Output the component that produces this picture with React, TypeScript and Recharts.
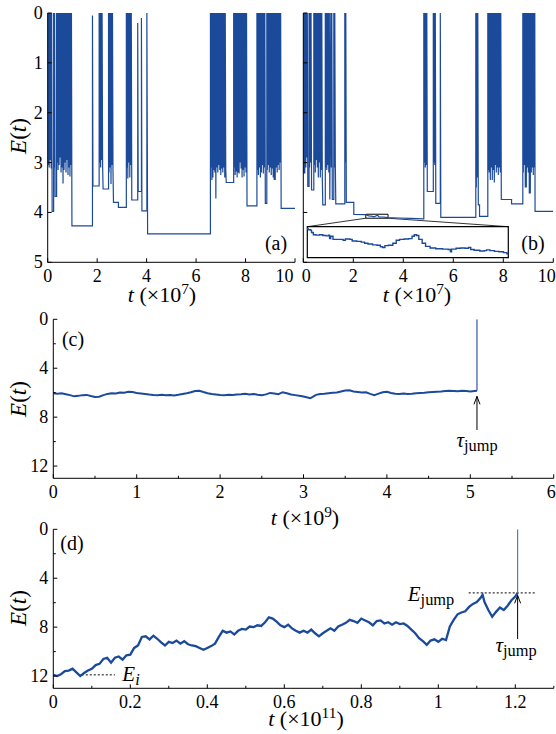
import React from 'react';
import { LineChart, Line, XAxis, YAxis, ReferenceLine, ReferenceDot, ReferenceArea } from 'recharts';

const BLUE = '#1b4a9b';
const FONT = '"Liberation Serif", "DejaVu Serif", serif';

// panel (a): E(t) trace, [t (x1e7), E]
const traceA: [number, number][] = [
  [0, 0], [0.02, 3.05], [0.04, 0], [0.06, 3.1], [0.08, 0], [0.1, 2.95], [0.12, 0], [0.14, 3.12], [0.16, 0],
  [0.18, 3.98], [0.24, 3.98], [0.24, 0], [0.26, 3.1], [0.28, 0], [0.3, 3.68], [0.36, 3.68], [0.36, 0],
  [0.38, 3.0], [0.4, 0], [0.42, 3.15], [0.44, 0], [0.46, 3.05], [0.48, 0], [0.5, 2.9], [0.52, 0], [0.54, 3.2],
  [0.56, 0], [0.58, 3.1], [0.6, 0], [0.62, 3.42], [0.64, 0], [0.66, 3.15], [0.68, 0], [0.7, 3.0], [0.72, 0],
  [0.74, 3.2], [0.76, 0], [0.78, 2.95], [0.8, 0], [0.82, 3.25], [0.84, 0], [0.86, 3.1], [0.88, 0], [0.9, 3.28],
  [0.92, 0], [0.94, 3.05], [0.96, 0], [0.98, 4.27], [1.81, 4.27], [1.81, 0.05], [1.83, 3.47], [2.08, 3.47], [2.08, 0],
  [2.1, 3.0], [2.12, 0], [2.14, 3.1], [2.16, 0], [2.18, 2.95], [2.2, 0], [2.22, 3.05], [2.24, 3.53], [2.46, 3.53], [2.46, 0],
  [2.48, 3.2], [2.5, 0], [2.52, 3.1], [2.54, 0], [2.56, 3.43], [2.58, 0], [2.6, 3.05], [2.62, 0], [2.64, 3.15],
  [2.66, 3.8], [2.86, 3.8], [2.86, 3.9], [3.18, 3.9], [3.18, 0],
  [3.2, 3.1], [3.22, 0], [3.24, 3.32], [3.26, 0], [3.28, 3.0], [3.3, 0], [3.32, 3.3], [3.34, 0], [3.36, 3.05],
  [3.38, 0], [3.4, 3.75], [3.64, 3.75], [3.64, 0.2], [3.66, 3.58], [3.79, 3.58], [3.79, 0.1], [3.81, 3.97],
  [4.01, 3.97], [4.01, 0], [4.04, 4.43], [6.58, 4.43], [6.58, 0],
  [6.6, 3.1], [6.62, 0], [6.64, 3.35], [6.66, 0], [6.68, 3.3], [6.7, 0], [6.72, 3.15], [6.74, 0], [6.76, 3.2],
  [6.78, 0], [6.8, 3.72], [6.82, 0], [6.84, 3.1], [6.86, 0], [6.88, 3.2], [6.9, 0], [6.92, 3.05], [6.94, 0],
  [6.96, 3.15], [6.98, 0], [7.0, 3.25], [7.02, 0], [7.04, 3.12], [7.06, 0], [7.08, 3.2], [7.1, 0], [7.12, 3.1],
  [7.14, 0], [7.16, 3.3], [7.18, 0], [7.2, 3.15], [7.22, 3.4], [7.52, 3.4], [7.52, 0],
  [7.54, 3.1], [7.56, 0], [7.58, 3.25], [7.6, 0], [7.62, 3.18], [7.64, 0], [7.66, 3.3], [7.68, 0], [7.7, 3.2],
  [7.72, 0], [7.74, 3.22], [7.76, 0], [7.78, 3.0], [7.8, 0], [7.82, 3.12], [7.84, 0], [7.86, 3.3], [7.88, 0],
  [7.9, 3.15], [7.92, 0], [7.94, 3.28], [7.96, 0], [7.98, 3.1], [8.0, 0], [8.02, 3.2], [8.04, 0], [8.06, 3.87],
  [8.46, 3.87], [8.46, 0],
  [8.48, 3.15], [8.5, 0], [8.52, 3.25], [8.54, 0], [8.56, 3.1], [8.58, 0], [8.6, 3.3], [8.62, 0], [8.64, 3.2],
  [8.66, 0], [8.68, 3.05], [8.7, 0], [8.72, 3.22], [8.74, 0], [8.76, 3.1], [8.78, 0], [8.8, 3.82], [8.86, 3.82],
  [8.86, 0], [8.88, 3.15], [8.9, 0], [8.92, 3.05], [8.94, 0], [8.96, 3.2], [8.98, 0], [9.0, 3.1], [9.02, 0],
  [9.04, 3.25], [9.06, 0], [9.08, 3.12], [9.1, 0], [9.12, 3.3], [9.14, 0], [9.16, 3.35], [9.18, 0], [9.2, 3.35],
  [9.22, 0], [9.24, 3.1], [9.26, 0], [9.28, 3.2], [9.3, 0], [9.32, 3.05], [9.34, 0], [9.36, 3.15], [9.38, 0],
  [9.4, 3.0], [9.42, 0], [9.44, 3.92], [10, 3.92],
];

// panel (b): E(t) trace, [t (x1e7), E]
const traceB: [number, number][] = [
  [0, 0], [0.02, 3.22], [0.04, 0], [0.06, 3.22], [0.08, 0], [0.1, 3.1], [0.12, 0], [0.14, 2.9], [0.16, 0],
  [0.18, 3.48], [0.23, 3.48], [0.23, 0], [0.25, 3.1], [0.27, 0], [0.29, 3.0], [0.31, 0], [0.33, 3.55],
  [0.42, 3.55], [0.42, 0],
  [0.44, 3.05], [0.46, 0], [0.48, 3.2], [0.5, 0], [0.52, 2.95], [0.54, 0], [0.56, 3.1], [0.58, 0], [0.6, 3.3],
  [0.62, 0], [0.64, 3.0], [0.66, 0], [0.68, 3.3], [0.7, 0], [0.72, 3.15], [0.74, 0], [0.76, 3.3], [0.78, 3.85],
  [0.88, 3.85], [0.88, 0],
  [0.9, 3.1], [0.92, 0], [0.94, 3.15], [0.96, 0], [0.98, 3.05], [1.0, 0], [1.02, 3.2], [1.04, 0], [1.06, 3.74],
  [1.1, 0], [1.12, 3.1], [1.14, 0], [1.16, 3.74], [1.22, 3.74], [1.22, 0], [1.24, 3.1], [1.26, 0], [1.28, 3.0],
  [1.3, 3.83], [1.66, 3.83], [1.66, 0], [1.68, 3.0], [1.7, 0], [1.72, 3.8], [2.02, 3.8],
  [2.02, 4.04], [2.5, 4.042], [2.55, 4.056], [2.62, 4.068], [2.72, 4.073], [2.83, 4.088], [2.9, 4.07],
  [2.97, 4.057], [3.03, 4.088], [3.2, 4.091], [3.39, 4.104], [3.8, 4.112], [4.3, 4.12], [4.82, 4.13], [4.82, 0],
  [4.84, 3.0], [4.86, 0], [4.88, 3.1], [4.9, 0], [4.92, 3.05], [4.94, 0], [4.96, 3.58], [5.2, 3.58], [5.2, 0],
  [5.22, 3.0], [5.24, 0], [5.26, 3.05], [5.28, 0], [5.3, 3.82], [5.48, 3.82], [5.48, 0], [5.5, 4.1],
  [6.9, 4.1], [6.9, 0], [6.92, 3.5], [6.94, 0], [6.96, 3.3], [6.98, 0], [7.0, 3.85], [7.05, 3.85],
  [7.05, 4.08], [7.38, 4.08], [7.38, 0],
  [7.4, 3.15], [7.42, 0], [7.44, 3.2], [7.46, 0], [7.48, 3.35], [7.5, 0], [7.52, 3.1], [7.54, 0], [7.56, 3.35],
  [7.58, 0], [7.6, 3.15], [7.62, 0], [7.64, 3.4], [7.66, 0], [7.68, 3.05], [7.7, 0], [7.72, 3.2], [7.74, 0],
  [7.76, 3.1], [7.78, 0], [7.8, 3.25], [7.82, 0], [7.84, 3.1], [7.86, 0], [7.88, 3.2], [7.9, 0], [7.92, 3.74],
  [8.33, 3.74], [8.33, 3.83], [8.78, 3.83], [8.78, 0],
  [8.8, 3.2], [8.82, 0], [8.84, 3.05], [8.86, 0], [8.88, 3.5], [8.9, 0], [8.92, 3.5], [8.94, 0], [8.96, 3.1],
  [8.98, 0], [9.0, 3.2], [9.02, 0], [9.04, 3.62], [9.06, 0], [9.08, 3.62], [9.1, 0], [9.12, 3.2], [9.14, 0],
  [9.16, 3.1], [9.18, 0], [9.2, 3.25], [9.22, 0], [9.24, 3.1], [9.26, 0], [9.27, 3.98], [10, 3.98],
];

// inset of (b): zoom on 2.5 < t < 3.39
const insetB: [number, number][] = [
  [2.5, 4.04], [2.505, 4.043], [2.515, 4.044], [2.52, 4.05], [2.528, 4.056], [2.54, 4.057], [2.555, 4.056],
  [2.57, 4.058], [2.585, 4.059], [2.595, 4.057], [2.6, 4.066], [2.605, 4.06], [2.615, 4.068], [2.64, 4.068],
  [2.66, 4.07], [2.67, 4.067], [2.69, 4.068], [2.7, 4.072], [2.72, 4.073], [2.74, 4.075], [2.755, 4.078],
  [2.77, 4.08], [2.79, 4.082], [2.81, 4.083], [2.825, 4.087], [2.835, 4.089], [2.845, 4.084], [2.86, 4.083],
  [2.88, 4.078], [2.895, 4.07], [2.91, 4.068], [2.93, 4.067], [2.95, 4.066], [2.965, 4.06], [2.975, 4.056],
  [2.985, 4.058], [2.995, 4.068], [3.01, 4.078], [3.025, 4.086], [3.045, 4.09], [3.07, 4.092], [3.1, 4.093],
  [3.125, 4.094], [3.135, 4.1], [3.14, 4.093], [3.16, 4.091], [3.18, 4.09], [3.2, 4.091], [3.215, 4.089],
  [3.225, 4.094], [3.24, 4.096], [3.265, 4.098], [3.285, 4.097], [3.295, 4.095], [3.31, 4.097], [3.33, 4.099],
  [3.35, 4.1], [3.37, 4.102], [3.385, 4.105], [3.39, 4.104],
];

// panel (c): t (x1e9)
const tC = [
  0, 0.05, 0.1, 0.15, 0.2, 0.25, 0.3, 0.35, 0.4, 0.45, 0.5, 0.55, 0.6, 0.65, 0.7, 0.75, 0.8, 0.85, 0.9, 0.95,
  1.0, 1.05, 1.1, 1.15, 1.2, 1.25, 1.3, 1.35, 1.4, 1.45, 1.5, 1.55, 1.6, 1.65, 1.7, 1.75, 1.8, 1.85, 1.9, 1.95,
  2.0, 2.05, 2.1, 2.15, 2.2, 2.25, 2.3, 2.35, 2.4, 2.45, 2.5, 2.55, 2.6, 2.65, 2.7, 2.75, 2.8, 2.85, 2.9, 2.95,
  3.0, 3.05, 3.08, 3.1, 3.15, 3.2, 3.25, 3.3, 3.35, 3.4, 3.45, 3.5, 3.55, 3.6, 3.65, 3.7, 3.75, 3.8, 3.85, 3.9,
  3.95, 4.0, 4.05, 4.1, 4.15, 4.2, 4.25, 4.3, 4.35, 4.4, 4.45, 4.5, 4.55, 4.6, 4.65, 4.7, 4.75, 4.8, 4.85, 4.9,
  4.95, 5.0, 5.05, 5.08,
];
const eC = [
  6.04, 6.08, 6.05, 6.12, 6.2, 6.3, 6.26, 6.2, 6.18, 6.27, 6.35, 6.33, 6.2, 6.1, 6.04, 6.06, 5.98, 6.0, 5.92, 5.95,
  6.02, 6.06, 6.1, 6.15, 6.18, 6.2, 6.16, 6.2, 6.18, 6.22, 6.17, 6.1, 6.04, 5.97, 5.86, 5.84, 5.95, 6.04, 6.1, 6.14,
  6.18, 6.2, 6.16, 6.19, 6.15, 6.12, 6.08, 6.14, 6.1, 6.16, 6.2, 6.14, 6.02, 6.07, 6.12, 5.96, 6.05, 6.15, 6.2, 6.25,
  6.32, 6.4, 6.45, 6.38, 6.18, 6.1, 6.08, 6.04, 6.0, 5.98, 5.9, 5.82, 5.8, 5.9, 5.94, 5.98, 5.97, 6.1, 6.2, 6.08,
  5.96, 5.92, 6.02, 6.08, 6.1, 6.06, 6.1, 6.08, 6.05, 6.02, 6.0, 5.96, 5.94, 5.92, 5.9, 5.86, 5.84, 5.86, 5.88, 5.85,
  5.87, 5.9, 5.86, 5.85,
];
const jumpC: [number, number][] = [[5.08, 5.85], [5.08, 0]];

// panel (d): t (x1e11)
const tD = [
  0, 0.01, 0.02, 0.03, 0.04, 0.05, 0.06, 0.07, 0.08, 0.09, 0.1, 0.11, 0.12, 0.13, 0.14, 0.15, 0.16, 0.17, 0.18, 0.19,
  0.2, 0.21, 0.22, 0.23, 0.24, 0.25, 0.26, 0.27, 0.28, 0.29, 0.3, 0.31, 0.32, 0.33, 0.34, 0.35, 0.36, 0.37, 0.38, 0.39,
  0.4, 0.41, 0.42, 0.43, 0.44, 0.45, 0.46, 0.47, 0.48, 0.49, 0.5, 0.51, 0.52, 0.53, 0.54, 0.55, 0.56, 0.57, 0.58, 0.59,
  0.6, 0.61, 0.62, 0.63, 0.64, 0.65, 0.66, 0.67, 0.68, 0.69, 0.7, 0.71, 0.72, 0.73, 0.74, 0.75, 0.76, 0.77, 0.78, 0.79,
  0.8, 0.81, 0.82, 0.83, 0.84, 0.85, 0.86, 0.87, 0.88, 0.89, 0.9, 0.91, 0.92, 0.93, 0.94, 0.95, 0.96, 0.97, 0.98, 0.99,
  1.0, 1.01, 1.02, 1.03, 1.04, 1.05, 1.06, 1.07, 1.08, 1.09, 1.1, 1.11, 1.115, 1.12, 1.13, 1.14, 1.15, 1.16, 1.17, 1.18,
  1.19, 1.2, 1.206,
];
const eD = [
  11.9, 12.0, 11.85, 11.6, 11.55, 11.4, 11.7, 12.0, 11.75, 11.55, 11.4, 11.1, 11.0, 10.6, 10.5, 10.9, 10.5, 10.4, 10.65, 10.3,
  10.25, 9.7, 9.5, 8.8, 8.75, 9.0, 8.7, 8.95, 9.25, 9.5, 9.2, 9.3, 9.1, 9.35, 9.15, 9.4, 9.5, 9.55, 9.7, 9.85,
  9.7, 9.55, 9.35, 8.8, 8.3, 8.45, 8.35, 8.6, 8.3, 8.15, 8.2, 7.95, 8.0, 7.85, 7.9, 7.6, 7.2, 7.3, 7.55, 7.85,
  8.0, 7.8, 8.1, 8.3, 8.45, 8.3, 8.45, 8.2, 8.5, 8.75, 8.5, 8.3, 8.1, 8.3, 7.95, 7.8, 7.65, 7.4, 7.5, 7.65,
  7.3, 7.45, 7.6, 7.85, 7.5, 7.45, 7.7, 7.6, 7.8, 7.6, 7.75, 7.7, 7.9, 8.2, 8.5, 8.9, 9.15, 9.45, 9.1, 9.0,
  9.2, 8.95, 9.05, 7.95, 7.4, 6.95, 6.8, 6.7, 6.35, 6.1, 5.95, 5.6, 5.35, 5.95, 6.6, 7.15, 6.75, 6.4, 6.6, 6.25,
  5.8, 5.5, 5.2,
];
const jumpD: [number, number][] = [[1.206, 5.2], [1.206, 0]];

const ticksAB_x = [0, 2, 4, 6, 8, 10];
const ticksAB_y = [0, 1, 2, 3, 4, 5];
const ticksC_x = [0, 0.5, 1, 1.5, 2, 2.5, 3, 3.5, 4, 4.5, 5, 5.5, 6];
const ticksD_x = [0, 0.1, 0.2, 0.3, 0.4, 0.5, 0.6, 0.7, 0.8, 0.9, 1, 1.1, 1.2, 1.3];
const ticksCD_y = [0, 2, 4, 6, 8, 10, 12];

const pts = (arr: [number, number][]) => arr.map(([t, e]) => ({ t, e }));
const zip = (ts: number[], es: number[]) => ts.map((t, i) => ({ t, e: es[i] }));

const fmt = (v: number) => String(Math.round(v * 10) / 10);

type Side = 'bottom' | 'top' | 'left' | 'right';
type Edge = { first?: boolean; last?: number };
const makeTick = (side: Side, isMajor: (v: number) => boolean, labels: boolean, edge: Edge = {}, lastVal?: number) => (p: any) => {
  const { x, y } = p;
  const v = p.payload.value;
  const len = isMajor(v) ? 4 : 2.5;
  let line;
  if (side === 'bottom') line = <line x1={x} y1={y} x2={x} y2={y - len} stroke="#000" />;
  else if (side === 'top') line = <line x1={x} y1={y} x2={x} y2={y + len} stroke="#000" />;
  else if (side === 'left') line = <line x1={x} y1={y} x2={x + len} y2={y} stroke="#000" />;
  else line = <line x1={x} y1={y} x2={x - len} y2={y} stroke="#000" />;
  const show = labels && isMajor(v);
  let anchor = 'middle';
  let tx = x;
  if (side === 'bottom' && edge.first && v === 0) { anchor = 'start'; tx = x - 1.5; }
  if (side === 'bottom' && edge.last !== undefined && v === lastVal) { anchor = 'end'; tx = x + edge.last; }
  return (
    <g>
      {line}
      {show && side === 'bottom' && (
        <text x={tx} y={y + 19.5} textAnchor={anchor} fontSize={18} fontFamily={FONT} fill="#000">{fmt(v)}</text>
      )}
      {show && side === 'left' && (
        <text x={x - 5} y={y + 6} textAnchor="end" fontSize={18} fontFamily={FONT} fill="#000">{fmt(v)}</text>
      )}
    </g>
  );
};

const all = () => true;
const isInt = (v: number) => Math.abs(v - Math.round(v)) < 1e-6;
const isEvenTenth = (v: number) => Math.round(v * 10) % 2 === 0 && v < 1.25;
const isFour = (v: number) => Math.round(v) % 4 === 0;

const axisLine = { stroke: '#000', strokeWidth: 1 };

function Frame({ xDomain, yDomain, xTicks, yTicks, xMajor, yMajor, yLabels, yWidth, xHeight, edge }: any) {
  const lastVal = xTicks[xTicks.length - 1];
  return [
    <XAxis key="xb" xAxisId={0} type="number" dataKey="t" domain={xDomain} ticks={xTicks} interval={0}
      tickSize={0} tickMargin={0} height={xHeight} axisLine={axisLine} tickLine={false}
      tick={makeTick('bottom', xMajor, true, edge, lastVal)} allowDataOverflow />,
    <XAxis key="xt" xAxisId="top" orientation="top" type="number" dataKey="t" domain={xDomain} ticks={xTicks}
      interval={0} tickSize={0} tickMargin={0} height={0} axisLine={axisLine} tickLine={false}
      tick={makeTick('top', xMajor, false)} allowDataOverflow />,
    <YAxis key="yl" yAxisId={0} type="number" reversed domain={yDomain} ticks={yTicks} interval={0}
      tickSize={0} tickMargin={0} width={yWidth} axisLine={axisLine} tickLine={false}
      tick={makeTick('left', yMajor, yLabels)} allowDataOverflow />,
    <YAxis key="yr" yAxisId="right" orientation="right" type="number" reversed domain={yDomain} ticks={yTicks}
      interval={0} tickSize={0} tickMargin={0} width={0} axisLine={axisLine} tickLine={false}
      tick={makeTick('right', yMajor, false)} allowDataOverflow />,
  ];
}

const arrowHead = (p: any) => (
  <path d={`M${p.cx - 3},${p.cy + 8} L${p.cx},${p.cy} L${p.cx + 3},${p.cy + 8}`} fill="none" stroke="#000" strokeWidth={1} />
);

const Txt = ({ x, y, size = 20, rotate = false, children }: any) => (
  <div style={{
    position: 'absolute', left: x, top: y, fontSize: size, lineHeight: 1, whiteSpace: 'nowrap',
    transform: `translate(-50%, -50%)${rotate ? ' rotate(-90deg)' : ''}`,
  }}>{children}</div>
);

const Et = () => (<span><i>E</i>(<i>t</i>)</span>);
const TLabel = ({ p }: { p: number }) => (
  <span><i>t</i> (×10<sup style={{ fontSize: '0.7em', lineHeight: 0 }}>{p}</sup>)</span>
);
const Sub = ({ children }: any) => (
  <sub style={{ fontSize: '0.78em', verticalAlign: '-0.3em', lineHeight: 0 }}>{children}</sub>
);

export default function App() {
  return (
    <div style={{ position: 'absolute', left: 0, top: 0, width: 556, height: 734, background: '#fff', fontFamily: FONT, color: '#000' }}>
      {/* (a) */}
      <div style={{ position: 'absolute', left: 0, top: 0 }}>
        <LineChart width={312} height={292} data={pts(traceA)} margin={{ top: 13, right: 17, bottom: 0, left: 0 }}>
          {Frame({ xDomain: [0, 10], yDomain: [0, 5], xTicks: ticksAB_x, yTicks: ticksAB_y, xMajor: all, yMajor: all, yLabels: true, yWidth: 47.7, xHeight: 29.7, edge: { last: -1.5 } })}
          <Line dataKey="e" type="linear" stroke={BLUE} strokeWidth={1.2} dot={false} isAnimationActive={false} />
        </LineChart>
      </div>
      {/* (b) */}
      <div style={{ position: 'absolute', left: 296, top: 0 }}>
        <LineChart width={260} height={292} data={pts(traceB)} margin={{ top: 13, right: 2.7, bottom: 0, left: 0 }}>
          {Frame({ xDomain: [0, 10], yDomain: [0, 5], xTicks: ticksAB_x, yTicks: ticksAB_y, xMajor: all, yMajor: all, yLabels: false, yWidth: 7.3, xHeight: 29.7, edge: { first: true, last: 2.5 } })}
          <ReferenceArea x1={0.16} x2={8.2} y1={4.286} y2={4.908} fill="#fff" fillOpacity={1} stroke="#000" strokeWidth={1.2} />
          <ReferenceArea x1={2.5} x2={3.39} y1={4.036} y2={4.116} fill="none" stroke="#000" strokeWidth={1} />
          <ReferenceLine segment={[{ x: 2.5, y: 4.116 }, { x: 0.16, y: 4.286 }]} stroke="#000" strokeWidth={0.8} />
          <ReferenceLine segment={[{ x: 3.39, y: 4.116 }, { x: 8.2, y: 4.286 }]} stroke="#000" strokeWidth={0.8} />
          <Line dataKey="e" type="linear" stroke={BLUE} strokeWidth={1.2} dot={false} isAnimationActive={false} />
        </LineChart>
      </div>
      {/* inset of (b) */}
      <div style={{ position: 'absolute', left: 307.3, top: 226.7 }}>
        <LineChart width={201} height={31} data={pts(insetB)} margin={{ top: 0, right: 0, bottom: 0, left: 0 }}>
          <XAxis hide type="number" dataKey="t" domain={[2.5, 3.39]} allowDataOverflow />
          <YAxis hide type="number" reversed domain={[4.036, 4.116]} allowDataOverflow />
          <Line dataKey="e" type="stepAfter" stroke={BLUE} strokeWidth={1.4} dot={false} isAnimationActive={false} />
        </LineChart>
      </div>
      {/* (c) */}
      <div style={{ position: 'absolute', left: 0, top: 300 }}>
        <LineChart width={556} height={208} data={zip(tC, eC)} margin={{ top: 19.3, right: 2.3, bottom: 0, left: 0 }}>
          {Frame({ xDomain: [0, 6], yDomain: [0, 13], xTicks: ticksC_x, yTicks: ticksCD_y, xMajor: isInt, yMajor: isFour, yLabels: true, yWidth: 53.3, xHeight: 29.7, edge: { last: 2 } })}
          <Line dataKey="e" type="linear" stroke={BLUE} strokeWidth={2} dot={false} isAnimationActive={false} />
          <Line data={pts(jumpC)} dataKey="e" type="linear" stroke={BLUE} strokeWidth={1.1} dot={false} isAnimationActive={false} />
          <ReferenceLine segment={[{ x: 5.08, y: 9.05 }, { x: 5.08, y: 6.3 }]} stroke="#000" strokeWidth={1} />
          <ReferenceDot x={5.08} y={6.3} r={0} shape={arrowHead} />
        </LineChart>
      </div>
      {/* (d) */}
      <div style={{ position: 'absolute', left: 0, top: 510 }}>
        <LineChart width={556} height={210} data={zip(tD, eD)} margin={{ top: 19.3, right: 2.2, bottom: 0, left: 0 }}>
          {Frame({ xDomain: [0, 1.3], yDomain: [0, 13], xTicks: ticksD_x, yTicks: ticksCD_y, xMajor: isEvenTenth, yMajor: isFour, yLabels: true, yWidth: 53.3, xHeight: 31.7 })}
          <ReferenceLine segment={[{ x: 1.079, y: 5.2 }, { x: 1.252, y: 5.2 }]} stroke="#000" strokeWidth={1} strokeDasharray="2 2" />
          <ReferenceLine segment={[{ x: 0.074, y: 11.9 }, { x: 0.16, y: 11.9 }]} stroke="#000" strokeWidth={1} strokeDasharray="2 2" />
          <Line dataKey="e" type="linear" stroke={BLUE} strokeWidth={2.3} dot={false} isAnimationActive={false} />
          <Line data={pts(jumpD)} dataKey="e" type="linear" stroke="#4d72b8" strokeWidth={1.1} dot={false} isAnimationActive={false} />
          <ReferenceLine segment={[{ x: 1.206, y: 8.97 }, { x: 1.206, y: 5.4 }]} stroke="#000" strokeWidth={1} />
          <ReferenceDot x={1.206} y={5.4} r={0} shape={arrowHead} />
        </LineChart>
      </div>

      {/* text */}
      <Txt x={18} y={136} size={23} rotate><Et /></Txt>
      <Txt x={18} y={399} size={23} rotate><Et /></Txt>
      <Txt x={18} y={608} size={23} rotate><Et /></Txt>
      <Txt x={162} y={295} size={22}><TLabel p={7} /></Txt>
      <Txt x={417} y={295} size={22}><TLabel p={7} /></Txt>
      <Txt x={305} y={518} size={22}><TLabel p={9} /></Txt>
      <Txt x={306} y={719} size={22}><TLabel p={11} /></Txt>
      <Txt x={276} y={243}>(a)</Txt>
      <Txt x={533} y={243}>(b)</Txt>
      <Txt x={73} y={339}>(c)</Txt>
      <Txt x={72} y={543}>(d)</Txt>
      <Txt x={477} y={440} size={21}><span><i>τ</i><Sub>jump</Sub></span></Txt>
      <Txt x={516} y={645} size={21}><span><i>τ</i><Sub>jump</Sub></span></Txt>
      <Txt x={431} y={594} size={21}><span><i>E</i><Sub>jump</Sub></span></Txt>
      <Txt x={131} y={674} size={21}><span><i>E</i><Sub><i>i</i></Sub></span></Txt>
    </div>
  );
}
